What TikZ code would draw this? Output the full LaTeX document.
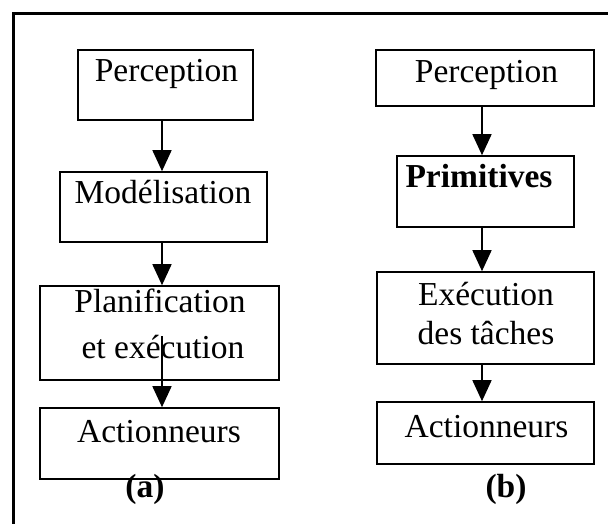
\documentclass[tikz,border=0pt]{standalone}
\usepackage{fontspec}
\setmainfont{Liberation Serif}
\usetikzlibrary{arrows.meta}
\begin{document}
\begin{tikzpicture}[x=1pt,y=-1pt,
  box/.style={draw, line width=1.6pt, inner sep=0pt},
  lbl/.style={font=\fontsize{33.5}{38}\selectfont, inner sep=0pt, anchor=base},
  flow/.style={line width=1.6pt, -{Triangle[width=19pt,length=21pt]}}]
\useasboundingbox (0,0) rectangle (608,524);
% outer frame (top and left edges)
\draw[line width=3pt] (13.5,524) -- (13.5,13.5) -- (608,13.5);

% column (a)
\node[box, minimum width=175pt, minimum height=70pt] (percA) at (165.5,85) {};
\node[box, minimum width=207pt, minimum height=70pt] (modA) at (163.5,207) {};
\node[box, minimum width=239pt, minimum height=94pt] (planA) at (159.5,333) {};
\node[box, minimum width=239pt, minimum height=71pt] (actA) at (159.5,443.5) {};

\node[lbl] (tPercA) at (166.5,82) {Perception};
\node[lbl] (tModA) at (163,204) {Modélisation};
\node[lbl] (tPlanA1) at (160,312) {Planification};
\node[lbl] (tPlanA2) at (163,358.5) {et exécution};
\node[lbl] (tActA) at (159,442) {Actionneurs};
\node[lbl, font=\fontsize{33.5}{38}\selectfont\bfseries] (capA) at (145,497) {(a)};

\coordinate (xa) at (162,0);
\coordinate (planOut) at (162,336);
\draw[flow] (percA.south -| xa) -- (modA.north -| xa);
\draw[flow] (modA.south -| xa) -- (planA.north -| xa);
\draw[flow] (planOut) -- (actA.north -| xa);

% column (b)
\node[box, minimum width=218pt, minimum height=56pt] (percB) at (485,78) {};
\node[box, minimum width=177pt, minimum height=71pt] (primB) at (485.5,191.5) {};
\node[box, minimum width=217pt, minimum height=92pt] (execB) at (485.5,318) {};
\node[box, minimum width=217pt, minimum height=62pt] (actB) at (485.5,433) {};

\node[lbl] (tPercB) at (486.5,83) {Perception};
\node[lbl, font=\fontsize{33.5}{38}\selectfont\bfseries] (tPrimB) at (479,188) {Primitives};
\node[lbl] (tExecB1) at (486,305) {Exécution};
\node[lbl] (tExecB2) at (486,344) {des tâches};
\node[lbl] (tActB) at (486.5,437) {Actionneurs};
\node[lbl, font=\fontsize{33.5}{38}\selectfont\bfseries] (capB) at (506,497) {(b)};

\coordinate (xb) at (482,0);
\draw[flow] (percB.south -| xb) -- (primB.north -| xb);
\draw[flow] (primB.south -| xb) -- (execB.north -| xb);
\draw[flow] (execB.south -| xb) -- (actB.north -| xb);
\end{tikzpicture}
\end{document}
